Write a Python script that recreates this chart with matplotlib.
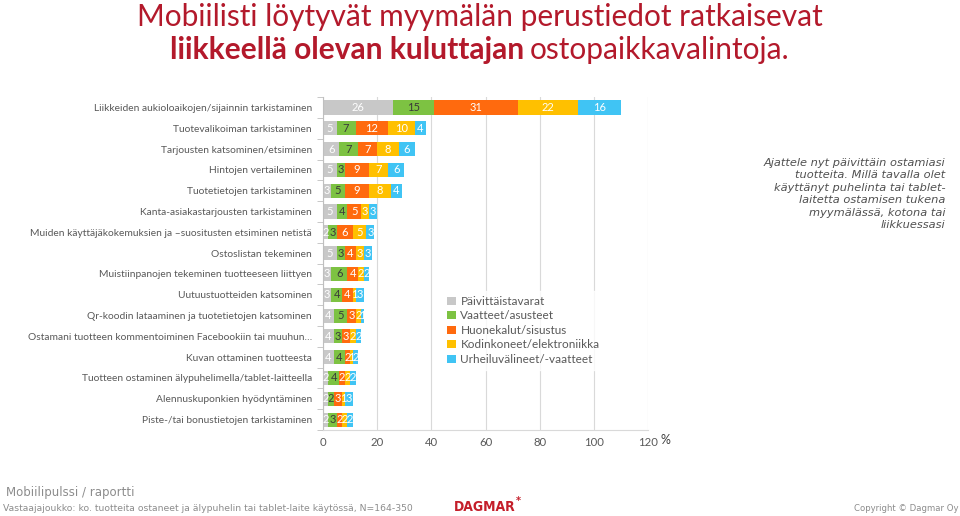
import matplotlib.pyplot as plt
import numpy as np

# Data
kategoriat = [
    "Liikkeiden aukioloaikojen/sijainnin tarkistaminen",
    "Tuotevalikoiman tarkistaminen",
    "Tarjousten katsominen/etsiminen",
    "Hintojen vertaileminen",
    "Tuotetietojen tarkistaminen",
    "Kanta-asiakastarjousten tarkistaminen",
    "Muiden käyttäjäkokemuksien ja \u2013suositusten etsiminen netistä",
    "Ostoslistan tekeminen",
    "Muistiinpanojen tekeminen tuotteeseen liittyen",
    "Uutuustuotteiden katsominen",
    "Qr-koodin lataaminen ja tuotetietojen katsominen",
    "Ostamani tuotteen kommentoiminen Facebookiin tai muuhun\u2026",
    "Kuvan ottaminen tuotteesta",
    "Tuotteen ostaminen älypuhelimella/tablet-laitteella",
    "Alennuskuponkien hyödyntäminen",
    "Piste-/tai bonustietojen tarkistaminen",
]
sarjat = ["Päivittäistavarat", "Vaatteet/asusteet", "Huonekalut/sisustus",
          "Kodinkoneet/elektroniikka", "Urheiluvälineet/-vaatteet"]
paivittaistavarat = [26, 5, 6, 5, 3, 5, 2, 5, 3, 3, 4, 4, 4, 2, 2, 2]
vaatteet = [15, 7, 7, 3, 5, 4, 3, 3, 6, 4, 5, 3, 4, 4, 2, 3]
huonekalut = [31, 12, 7, 9, 9, 5, 6, 4, 4, 4, 3, 3, 2, 2, 3, 2]
kodinkoneet = [22, 10, 8, 7, 8, 3, 5, 3, 2, 1, 2, 2, 1, 2, 1, 2]
urheilu = [16, 4, 6, 6, 4, 3, 3, 3, 2, 3, 1, 2, 2, 2, 3, 2]
x_ticks = [0, 20, 40, 60, 80, 100, 120]

arvot = [paivittaistavarat, vaatteet, huonekalut, kodinkoneet, urheilu]
varit = ['#C8C8C8', '#7DC242', '#FF6A0E', '#FFC000', '#40C4F4']
tekstivarit = ['white', '#3A3A3A', 'white', 'white', 'white']

plt.rcParams['font.family'] = ['Lato', 'DejaVu Sans']

fig = plt.figure(figsize=(9.6, 5.16), dpi=100)
ax = fig.add_axes([0.3365, 0.1667, 0.3385, 0.645])

y = np.arange(len(kategoriat))
vasen = np.zeros(len(kategoriat))
for nimi, vals, vari, tv in zip(sarjat, arvot, varit, tekstivarit):
    vals = np.array(vals, dtype=float)
    bars = ax.barh(y, vals, left=vasen, height=0.68, color=vari, label=nimi)
    for b, v in zip(bars, vals):
        ax.text(b.get_x() + b.get_width() / 2, b.get_y() + b.get_height() / 2,
                f"{int(v)}", ha='center', va='center', fontsize=8, color=tv)
    vasen += vals

ax.set_ylim(len(kategoriat) - 0.5, -0.5)
ax.set_xlim(0, 120)
ax.set_xticks(x_ticks)
ax.set_yticks(y)
ax.set_yticklabels(kategoriat, fontsize=7.4, color='#595959')
ax.tick_params(axis='x', length=0, labelsize=8.2, labelcolor='#595959', pad=5)
ax.tick_params(axis='y', length=0, pad=8)
ax.set_yticks(np.arange(len(kategoriat) + 1) - 0.5, minor=True)
ax.tick_params(axis='y', which='minor', length=4, color='#BFBFBF')
ax.grid(axis='x', color='#D9D9D9', linewidth=0.8)
ax.set_axisbelow(True)
for s in ['top', 'right']:
    ax.spines[s].set_visible(False)
ax.spines['left'].set_color('#BFBFBF')
ax.spines['bottom'].set_color('#D9D9D9')
ax.text(1.04, -0.03, "%", transform=ax.transAxes, fontsize=9, color='#404040',
        ha='left', va='center')

leg = ax.legend(loc='upper left', bbox_to_anchor=(0.35, 0.435), frameon=True,
                fontsize=8.5, handlelength=0.7, handleheight=0.7,
                handletextpad=0.4, labelspacing=0.3, borderpad=0.4, fancybox=False)
leg.get_frame().set_edgecolor('white')
leg.get_frame().set_facecolor('white')
for t in leg.get_texts():
    t.set_color('#595959')

# Title
punainen = '#B3192B'
fig.text(0.5, 0.968, "Mobiilisti löytyvät myymälän perustiedot ratkaisevat",
         ha='center', va='center', fontsize=21.5, color=punainen)
t1 = fig.text(0.177, 0.903, "liikkeellä olevan kuluttajan", ha='left', va='center',
              fontsize=21.5, color=punainen, fontweight='bold')
fig.canvas.draw()
bb = t1.get_window_extent()
fig.text(bb.x1 / fig.bbox.width + 0.006, 0.903, "ostopaikkavalintoja.",
         ha='left', va='center', fontsize=21.5, color=punainen)

# Question text
fig.text(0.985, 0.624,
         "Ajattele nyt päivittäin ostamiasi\ntuotteita. Millä tavalla olet\n"
         "käyttänyt puhelinta tai tablet-\nlaitetta ostamisen tukena\n"
         "myymälässä, kotona tai\nliikkuessasi",
         ha='right', va='center', fontsize=8.2, style='italic', color='#505050',
         family='DejaVu Sans', linespacing=1.3)

# Footer
fig.text(0.006, 0.046, "Mobiilipulssi / raportti", fontsize=8.5, color='#8C8C8C',
         family='DejaVu Sans', va='center')
fig.text(0.003, 0.015,
         "Vastaajajoukko: ko. tuotteita ostaneet ja älypuhelin tai tablet-laite käytössä, N=164-350",
         fontsize=6.7, color='#8C8C8C', family='DejaVu Sans', va='center')
fig.text(0.505, 0.017, "DAGMAR", fontsize=10, color='#C41E2A', fontweight='bold',
         family='DejaVu Sans', ha='center', va='center', stretch='condensed')
fig.text(0.540, 0.03, "*", fontsize=7, color='#C41E2A', fontweight='bold',
         family='DejaVu Sans', ha='center', va='center')
fig.text(0.998, 0.015, "Copyright \u00a9 Dagmar Oy", fontsize=6.1, color='#8C8C8C',
         family='DejaVu Sans', ha='right', va='center')

fig.savefig("out.png", dpi=100)
